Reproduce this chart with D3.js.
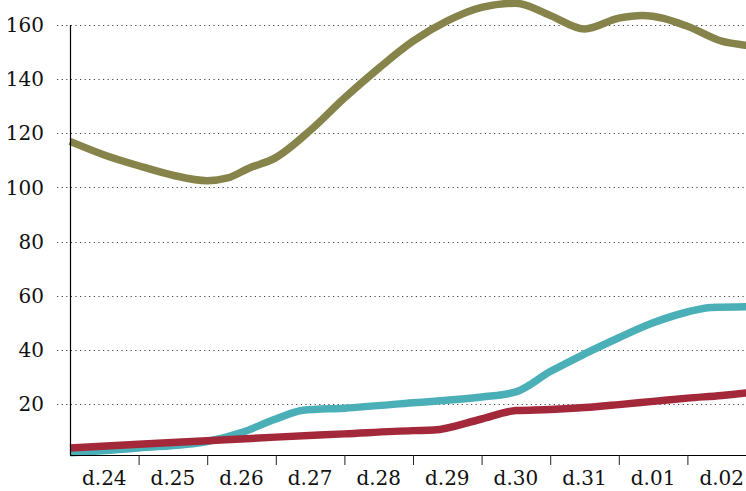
<!DOCTYPE html>
<html>
<head>
<meta charset="utf-8">
<script src="https://cdn.jsdelivr.net/npm/d3@7"></script>
<style>
  body { margin: 0; background: #fff; }
  svg { display: block; }
  text { font-family: "DejaVu Serif", serif; }
</style>
</head>
<body>
<svg width="746" height="491"></svg>
<script>
// day labels, centred in each day band
var dayLabels = ["d.24", "d.25", "d.26", "d.27", "d.28", "d.29", "d.30", "d.31", "d.01", "d.02"];
var yTicks = [20, 40, 60, 80, 100, 120, 140, 160];

// x is in days since start of d.24
var olive = [
    [0, 117], [0.5, 112], [1, 108], [1.5, 104.5], [2, 102.5], [2.3, 103.5], [2.6, 107],
    [3, 111], [3.5, 121], [4, 133], [4.5, 144], [5, 154], [5.5, 161.5], [6, 166.5],
    [6.5, 168], [7, 163.5], [7.5, 158.5], [8, 162.5], [8.35, 163.5],
    [9, 159.5], [9.5, 154], [9.85, 152.5], [10, 152]
];
var teal = [
    [0, 2], [1, 3.8], [2, 6.2], [2.5, 9.5], [3, 14.5], [3.4, 17.7], [4, 18.5],
    [5, 20.5], [6, 22.6], [6.5, 24.5], [7, 32], [7.5, 38.5], [8, 44.5], [8.5, 50],
    [9, 54], [9.35, 55.7], [10, 56]
];
var red = [
    [0, 3.8], [1, 5.2], [2, 6.5], [3, 7.8], [4, 9], [5, 10.2], [5.3, 10.4],
    [6, 14.5], [6.5, 17.6], [7, 18], [7.5, 18.7], [8, 19.8], [8.5, 21], [9, 22.2],
    [9.5, 23.2], [10, 24.5]
];

var svg = d3.select("svg"),
    margin = {top: 0, left: 70, bottom: 36},
    height = +svg.attr("height") - margin.bottom;

var x = d3.scaleLinear()
    .domain([0, 10])
    .range([margin.left, margin.left + 10 * 68.6]);

var y = d3.scaleLinear()
    .domain([1.2, 169.2])
    .range([height, 0]);

// dotted grid
svg.append("g")
    .attr("class", "grid")
    .selectAll("line")
    .data(yTicks)
    .enter().append("line")
    .attr("x1", 57)
    .attr("x2", 746)
    .attr("y1", function(d) { return Math.round(y(d)) + 0.5; })
    .attr("y2", function(d) { return Math.round(y(d)) + 0.5; })
    .attr("stroke", "#444")
    .attr("stroke-width", 1.2)
    .attr("stroke-dasharray", "1.2,3.4");

// y labels
svg.append("g")
    .selectAll("text")
    .data(yTicks)
    .enter().append("text")
    .attr("x", 44)
    .attr("y", function(d) { return y(d); })
    .attr("dy", "0.36em")
    .attr("text-anchor", "end")
    .attr("font-size", 20)
    .attr("fill", "#111")
    .text(function(d) { return d; });

var line = d3.line()
    .x(function(d) { return x(d[0]); })
    .y(function(d) { return y(d[1]); })
    .curve(d3.curveMonotoneX);

var series = [
    {data: olive, color: "#86844a"},
    {data: teal, color: "#4bafb8"},
    {data: red, color: "#a3283a"}
];

svg.append("g")
    .selectAll("path")
    .data(series)
    .enter().append("path")
    .attr("fill", "none")
    .attr("stroke", function(d) { return d.color; })
    .attr("stroke-width", 7.5)
    .attr("stroke-linejoin", "round")
    .attr("d", function(d) { return line(d.data); });

// axes
svg.append("line")
    .attr("x1", margin.left + 0.5).attr("x2", margin.left + 0.5)
    .attr("y1", y(160)).attr("y2", height)
    .attr("stroke", "#000").attr("stroke-width", 1.2);

var xAxis = svg.append("g")
    .attr("transform", "translate(0," + height + ")")
    .call(d3.axisBottom(x)
        .tickValues(d3.range(1, 10))
        .tickSize(10)
        .tickFormat(""));
xAxis.select(".domain").attr("stroke", "#000").attr("stroke-width", 1.2)
    .attr("d", "M" + margin.left + ",0.5H746");
xAxis.selectAll(".tick line").attr("stroke", "#222");

svg.append("g")
    .selectAll("text")
    .data(dayLabels)
    .enter().append("text")
    .attr("x", function(d, i) { return x(i + 0.5); })
    .attr("y", height + 30)
    .attr("text-anchor", "middle")
    .attr("font-size", 20)
    .attr("fill", "#111")
    .text(function(d) { return d; });
</script>
</body>
</html>
